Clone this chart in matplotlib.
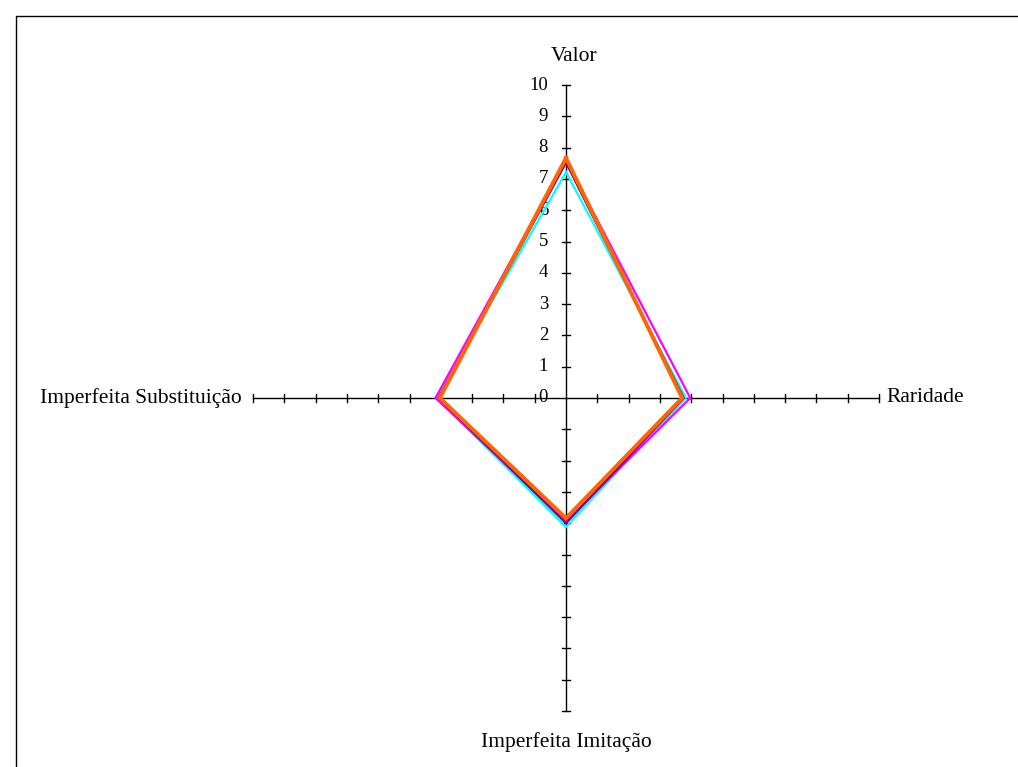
import numpy as np
import matplotlib
matplotlib.use("Agg")
import matplotlib.pyplot as plt
from matplotlib.patches import Rectangle

categories = ["Valor", "Raridade", "Imperfeita Imitação", "Imperfeita Substituição"]
series_cyan = [7.22, 3.83, 4.12, 4.12]
series_magenta = [7.60, 3.97, 3.94, 4.17]
series_purple = [7.52, 3.76, 4.00, 4.07]
series_orange = [7.67, 3.71, 3.84, 4.03]
tick_values = list(range(0, 11))

series = [
    (series_cyan, "#00FFFF", 1.6),
    (series_magenta, "#FF00FF", 1.6),
    (series_purple, "#800080", 1.6),
    (series_orange, "#FF6600", 2.8),
]

W, H = 1018, 767
cx_px, cy_px = 566, 398
unit = 31.3

plt.rcParams['font.family'] = ['Liberation Serif', 'DejaVu Serif']
fig = plt.figure(figsize=(W / 100, H / 100), dpi=100)
ax = fig.add_axes([0, 0, 1, 1])
ax.set_xlim(-cx_px / unit, (W - cx_px) / unit)
ax.set_ylim(-(H - cy_px) / unit, cy_px / unit)
ax.axis("off")

# angles: Valor up, clockwise
n = len(categories)
angles = [np.pi / 2 - 2 * np.pi * i / n for i in range(n)]
rmax = tick_values[-1]

# axis lines and ticks
tk = 3.8 / unit
for a in angles:
    ux, uy = np.cos(a), np.sin(a)
    ax.plot([0, rmax * ux], [0, rmax * uy], color="black", lw=1.0, zorder=1)
    px, py = -uy, ux
    for t in tick_values[1:]:
        x0, y0 = t * ux, t * uy
        ax.plot([x0 - tk * px, x0 + tk * px], [y0 - tk * py, y0 + tk * py],
                color="black", lw=1.0, zorder=1)

# tick labels on Valor axis
for t in tick_values:
    ax.text(-18 / unit, t, str(t), ha="right", va="center", fontsize=13.5, zorder=2)

# category labels
ax.text(0.25, 10 + 0.62, categories[0], ha="center", va="bottom", fontsize=15.5)
ax.text(10 + 0.25, 0, categories[1], ha="left", va="center", fontsize=15.5)
ax.text(0, -10 - 0.68, categories[2], ha="center", va="top", fontsize=15.5)
ax.text(-10 - 0.35, 0, categories[3], ha="right", va="center", fontsize=15.5)

# series
for vals, col, lw in series:
    xs = [v * np.cos(a) for v, a in zip(vals, angles)]
    ys = [v * np.sin(a) for v, a in zip(vals, angles)]
    xs.append(xs[0]); ys.append(ys[0])
    ax.plot(xs, ys, color=col, lw=lw, solid_joinstyle="miter", zorder=3)

# chart border
fig.patches.append(Rectangle((16 / W, -0.1), 1.2, (H - 16) / H + 0.1,
                             transform=fig.transFigure, fill=False,
                             edgecolor="black", lw=1.0))

fig.savefig("out.png", dpi=100)
